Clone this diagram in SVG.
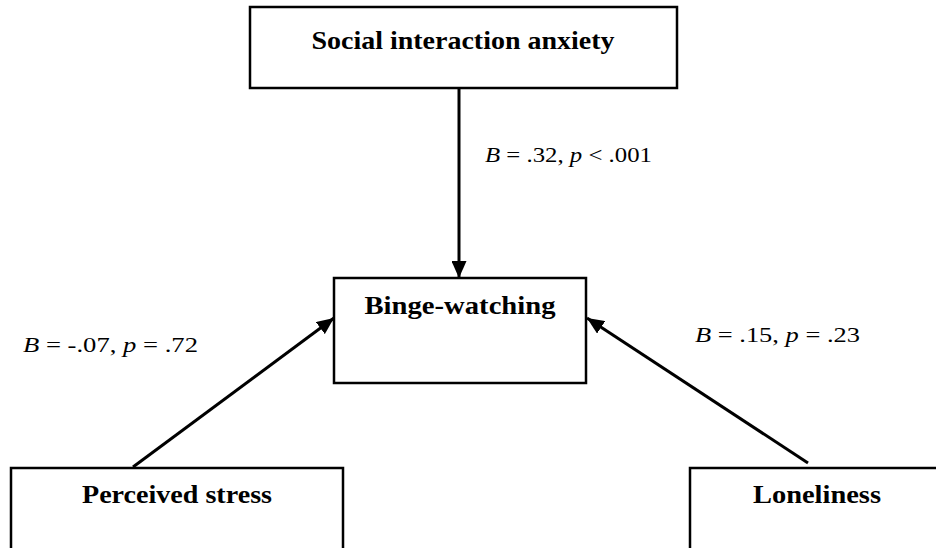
<svg xmlns="http://www.w3.org/2000/svg" width="936" height="548" viewBox="0 0 936 548">
<style>
.box{fill:#fff;stroke:#000;stroke-width:2.5}
.t{font-family:"Liberation Serif",serif;font-weight:bold;font-size:26px;fill:#000;text-anchor:middle}
.l{font-family:"Liberation Serif",serif;font-size:22px;fill:#000}
.c{stroke:#000;stroke-width:3;fill:none;marker-end:url(#ah)}
</style>
<defs>
<marker id="ah" markerUnits="userSpaceOnUse" markerWidth="18" markerHeight="15" refX="17" refY="7.5" orient="auto">
<path d="M0,0 L17,7.5 L0,15 Z" fill="#000"/>
</marker>
</defs>
<rect width="936" height="548" fill="#fff"/>
<g id="social">
<rect class="box" x="250" y="7" width="427" height="81"/>
<text class="t" x="463" y="49" textLength="303" lengthAdjust="spacingAndGlyphs">Social interaction anxiety</text>
</g>
<g id="binge">
<rect class="box" x="334" y="278" width="252" height="105"/>
<text class="t" x="460" y="314" textLength="191" lengthAdjust="spacingAndGlyphs">Binge-watching</text>
</g>
<g id="stress">
<rect class="box" x="11" y="468" width="332" height="100"/>
<text class="t" x="177" y="503" textLength="190" lengthAdjust="spacingAndGlyphs">Perceived stress</text>
</g>
<g id="loneliness">
<rect class="box" x="690" y="468" width="270" height="100"/>
<text class="t" x="817" y="503" textLength="128" lengthAdjust="spacingAndGlyphs">Loneliness</text>
</g>
<g id="connectors">
<line class="c" x1="459" y1="88" x2="459" y2="278"/>
<line class="c" x1="133" y1="467" x2="334" y2="318"/>
<line class="c" x1="808" y1="463" x2="587" y2="318"/>
</g>
<g id="labels">
<text class="l" x="485" y="162" textLength="167" lengthAdjust="spacingAndGlyphs"><tspan font-style="italic">B</tspan> = .32, <tspan font-style="italic">p</tspan> &lt; .001</text>
<text class="l" x="23" y="352" textLength="175" lengthAdjust="spacingAndGlyphs"><tspan font-style="italic">B</tspan> = -.07, <tspan font-style="italic">p</tspan> = .72</text>
<text class="l" x="695" y="342" textLength="165" lengthAdjust="spacingAndGlyphs"><tspan font-style="italic">B</tspan> = .15, <tspan font-style="italic">p</tspan> = .23</text>
</g>
</svg>
